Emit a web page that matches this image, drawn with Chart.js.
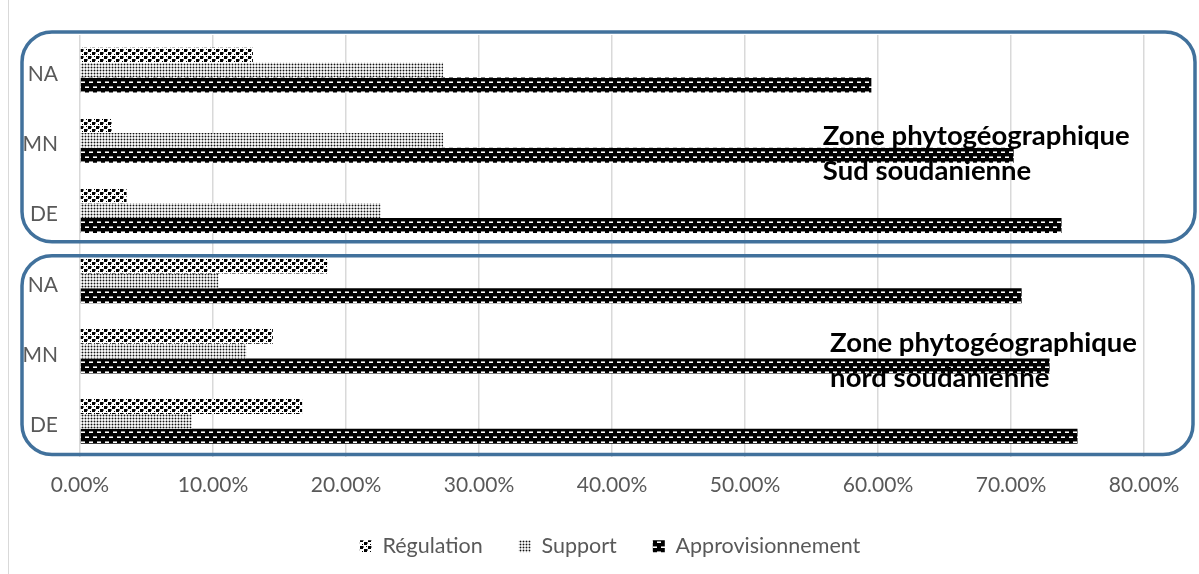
<!DOCTYPE html>
<html>
<head>
<meta charset="utf-8">
<script src="https://cdn.jsdelivr.net/npm/chart.js@4.4.1/dist/chart.umd.min.js"></script>
<style>
  html, body { margin: 0; padding: 0; background: #ffffff; }
  #wrap { position: relative; width: 1199px; height: 574px; }
</style>
</head>
<body>
<div id="wrap"><canvas id="chart" width="1199" height="574"></canvas></div>
<script>
// Services écosystémiques par catégorie d'usage (en %)
const categories = ['NA', 'MN', 'DE', 'NA', 'MN', 'DE'];
const seriesNames = ['Régulation', 'Support', 'Approvisionnement'];
const regulation = [13.0, 2.4, 3.5, 18.6, 14.5, 16.7];
const support = [27.3, 27.3, 22.6, 10.4, 12.5, 8.4];
const approvisionnement = [59.5, 70.2, 73.8, 70.8, 72.9, 75.0];
const xTicks = [0, 10, 20, 30, 40, 50, 60, 70, 80];
const zoneTitles = [
  ['Zone phytogéographique', 'Sud soudanienne'],
  ['Zone phytogéographique', 'nord soudanienne']
];

const FONT = 'Lato, "Open Sans", sans-serif';

function makePattern(w, h, draw) {
  const c = document.createElement('canvas');
  c.width = w; c.height = h;
  const g = c.getContext('2d');
  draw(g, w, h);
  return g.createPattern(c, 'repeat');
}

// Confettis noirs sur fond blanc
const patRegulation = makePattern(8, 7, (g, w, h) => {
  g.fillStyle = '#ffffff'; g.fillRect(0, 0, w, h);
  g.fillStyle = '#000000';
  g.fillRect(0, 0, 3, 3);
  g.fillRect(4, 3, 3, 3);
  g.fillRect(6, 0, 1, 1);
  g.fillRect(2, 5, 1, 1);
  g.fillStyle = '#7a7a7a';
  g.fillRect(3, 0, 1, 2);
  g.fillRect(7, 3, 1, 2);
});

// Trame de petits points
const patSupport = makePattern(3, 3, (g, w, h) => {
  g.fillStyle = '#f2f2f2'; g.fillRect(0, 0, w, h);
  g.fillStyle = '#a8a8a8';
  g.fillRect(0, 1, 3, 1);
  g.fillRect(1, 0, 1, 3);
  g.fillStyle = '#111111';
  g.fillRect(1, 1, 1, 1);
});

// Fond noir avec tirets blancs en quinconce
const patAppro = makePattern(8, 10, (g, w, h) => {
  g.fillStyle = '#000000'; g.fillRect(0, 0, w, h);
  g.fillStyle = '#ffffff';
  g.fillRect(1, 2, 4, 1);
  g.fillRect(5, 7, 3, 1);
  g.fillRect(0, 7, 1, 1);
  g.fillStyle = '#909090';
  g.fillRect(1, 1, 4, 1);
  g.fillRect(5, 6, 3, 1);
  g.fillRect(0, 6, 1, 1);
});

// Décale la légende pour la centrer sous l'ensemble du graphique
const legendShift = {
  id: 'legendShift',
  afterLayout(chart) {
    if (chart.legend) {
      chart.legend.left += 38;
      chart.legend.right += 38;
    }
  }
};

const frameAndTitles = {
  id: 'frameAndTitles',
  afterDraw(chart) {
    const { ctx, chartArea } = chart;
    const x = chart.scales.x, y = chart.scales.y;
    ctx.save();
    // bordure gauche de la zone graphique
    ctx.strokeStyle = '#d9d9d9';
    ctx.lineWidth = 1;
    ctx.beginPath();
    ctx.moveTo(8.5, 0); ctx.lineTo(8.5, 574);
    ctx.stroke();

    // cadres arrondis autour des deux zones
    const split = (y.getPixelForValue(2) + y.getPixelForValue(3)) / 2;
    const boxes = [
      { l: 22, r: chartArea.right + 51, t: chartArea.top - 3, b: split - 4 },
      { l: 22, r: chartArea.right + 49, t: split + 10, b: chartArea.bottom - 2 }
    ];
    ctx.strokeStyle = '#41719c';
    ctx.lineWidth = 3.5;
    boxes.forEach(bx => {
      ctx.beginPath();
      ctx.roundRect(bx.l, bx.t, bx.r - bx.l, bx.b - bx.t, 30);
      ctx.stroke();
    });

    // titres des zones
    ctx.fillStyle = '#000000';
    ctx.font = 'bold 27.5px ' + FONT;
    ctx.textAlign = 'left';
    ctx.textBaseline = 'alphabetic';
    const anchors = [
      { v: 55.85, cat: 1, dy: 5 },
      { v: 56.4, cat: 4, dy: 1 }
    ];
    anchors.forEach((a, i) => {
      const px = x.getPixelForValue(a.v);
      const py = y.getPixelForValue(a.cat) + a.dy;
      ctx.fillText(zoneTitles[i][0], px, py);
      ctx.fillText(zoneTitles[i][1], px, py + 35);
    });
    ctx.restore();
  }
};

new Chart(document.getElementById('chart'), {
  type: 'bar',
  data: {
    labels: categories,
    datasets: [
      { label: seriesNames[0], data: regulation, backgroundColor: patRegulation },
      { label: seriesNames[1], data: support, backgroundColor: patSupport },
      { label: seriesNames[2], data: approvisionnement, backgroundColor: patAppro }
    ]
  },
  options: {
    indexAxis: 'y',
    responsive: false,
    animation: false,
    devicePixelRatio: 1,
    layout: { padding: { top: 35, right: 55, bottom: 7, left: 0 } },
    datasets: {
      bar: { categoryPercentage: 0.64, barPercentage: 1.0, borderWidth: 0 }
    },
    scales: {
      x: {
        min: 0, max: 80,
        afterBuildTicks(scale) { scale.ticks = xTicks.map(v => ({ value: v })); },
        ticks: {
          color: '#595959',
          font: { family: FONT, size: 21 },
          padding: 16,
          callback: v => v.toFixed(2) + '%'
        },
        grid: { color: '#d9d9d9', lineWidth: 1.5, drawTicks: false },
        border: { display: false },
        afterFit(scale) { scale.height = 43; }
      },
      y: {
        ticks: {
          color: '#595959',
          font: { family: FONT, size: 21 },
          padding: 22,
          labelOffset: 4
        },
        grid: { display: false, drawTicks: false },
        border: { display: false },
        afterFit(scale) { scale.width = 80; }
      }
    },
    plugins: {
      legend: {
        position: 'bottom',
        labels: {
          color: '#595959',
          font: { family: FONT, size: 21.5 },
          boxWidth: 12,
          boxHeight: 12,
          padding: 36
        }
      },
      tooltip: { enabled: false }
    }
  },
  plugins: [legendShift, frameAndTitles]
});
</script>
</body>
</html>
